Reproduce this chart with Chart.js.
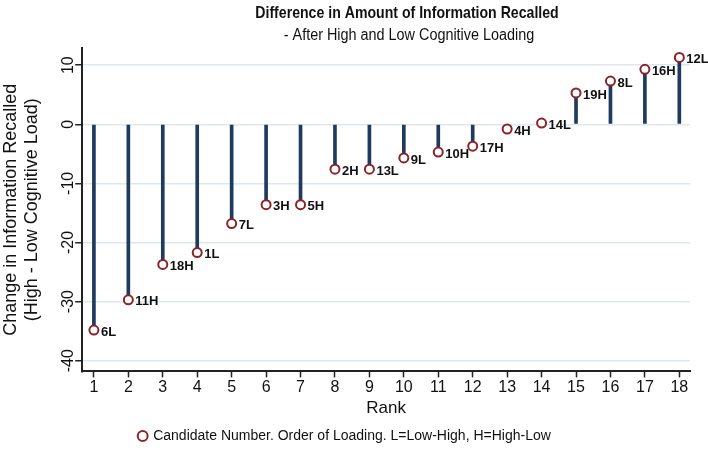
<!DOCTYPE html>
<html>
<head>
<meta charset="utf-8">
<script src="https://cdn.jsdelivr.net/npm/chart.js@4.4.1/dist/chart.umd.min.js"></script>
<style>
  html, body { margin: 0; padding: 0; background: #fff; }
  #wrap { width: 708px; height: 457px; }
</style>
</head>
<body>
<div id="wrap"><canvas id="stemChart"></canvas></div>
<script>
// 순위별 정보 회상 차이 (고부하 - 저부하)
const ranks = [1, 2, 3, 4, 5, 6, 7, 8, 9, 10, 11, 12, 13, 14, 15, 16, 17, 18];
const candidates = ['6L', '11H', '18H', '1L', '7L', '3H', '5H', '2H', '13L', '9L', '10H', '17H', '4H', '14L', '19H', '8L', '16H', '12L'];
const changes = [-34.8, -29.7, -23.7, -21.7, -16.8, -13.6, -13.6, -7.6, -7.6, -5.7, -4.7, -3.7, -0.8, 0.2, 5.3, 7.3, 9.3, 11.3];
const yTicks = [-40, -30, -20, -10, 0, 10];
const xTicks = ranks;

const FONT = "'Liberation Sans', Arial, sans-serif";
const points = ranks.map((r, i) => ({x: r, y: changes[i]}));

// 제목, y축 눈금(세로), 점 라벨
const extras = {
    id: 'extras',
    afterDatasetsDraw(chart) {
        const ctx = chart.ctx;
        const area = chart.chartArea;
        const yScale = chart.scales.y;
        ctx.save();
        ctx.fillStyle = '#111';
        ctx.textAlign = 'center';
        ctx.textBaseline = 'middle';

        ctx.save();
        ctx.translate(407, 13);
        ctx.scale(0.83, 1);
        ctx.font = 'bold 17px ' + FONT;
        ctx.fillText('Difference in Amount of Information Recalled', 0, 0);
        ctx.restore();

        ctx.save();
        ctx.translate(409, 36);
        ctx.scale(0.9, 1);
        ctx.font = '16px ' + FONT;
        ctx.fillText('- After High and Low Cognitive Loading', 0, 0);
        ctx.restore();

        ctx.font = '16px ' + FONT;
        yTicks.forEach(v => {
            const py = yScale.getPixelForValue(v);
            ctx.save();
            ctx.translate(area.left - 14, py);
            ctx.rotate(-Math.PI / 2);
            ctx.fillText(String(v), 0, 0);
            ctx.restore();
        });

        const meta = chart.getDatasetMeta(0);
        ctx.textAlign = 'left';
        ctx.font = 'bold 13px ' + FONT;
        meta.data.forEach((pt, i) => {
            ctx.fillText(candidates[i], pt.x + 7, pt.y + 2);
        });
        ctx.restore();
    }
};

new Chart(document.getElementById('stemChart').getContext('2d'), {
    type: 'bar',
    data: {
        datasets: [{
            type: 'scatter',
            label: 'Candidate Number. Order of Loading. L=Low-High, H=High-Low',
            data: points,
            pointStyle: 'circle',
            pointRadius: 4.5,
            pointBorderWidth: 2,
            borderColor: '#8b2428',
            backgroundColor: '#ffffff',
            order: 0
        }, {
            type: 'bar',
            label: 'stem',
            data: points,
            backgroundColor: '#1f3a5c',
            barThickness: 3,
            order: 1
        }]
    },
    options: {
        responsive: true,
        maintainAspectRatio: false,
        animation: false,
        layout: {padding: {top: 48, right: 18, left: 0, bottom: 4}},
        plugins: {
            title: {display: false},
            tooltip: {enabled: false},
            legend: {
                position: 'bottom',
                labels: {
                    filter: item => item.datasetIndex === 0,
                    usePointStyle: true,
                    boxWidth: 7,
                    boxHeight: 7,
                    padding: 10,
                    color: '#111',
                    font: {family: FONT, size: 14}
                }
            }
        },
        scales: {
            x: {
                type: 'linear',
                offset: false,
                min: 0.66,
                max: 18.31,
                afterBuildTicks: s => { s.ticks = xTicks.map(v => ({value: v})); },
                grid: {offset: false, color: 'rgba(0,0,0,0)', tickColor: '#222', tickLength: 6, tickWidth: 1.5},
                border: {color: '#222', width: 2},
                ticks: {color: '#111', font: {family: FONT, size: 16}, padding: 1, maxRotation: 0, autoSkip: false},
                title: {display: true, text: 'Rank', color: '#111', font: {family: FONT, size: 17}, padding: {top: 0, bottom: 0}}
            },
            y: {
                type: 'linear',
                min: -41.8,
                max: 12.9,
                afterBuildTicks: s => { s.ticks = yTicks.map(v => ({value: v})); },
                grid: {color: '#dce8ee', lineWidth: 1.5, tickColor: '#222', tickLength: 7, tickWidth: 1.5},
                border: {color: '#222', width: 2},
                ticks: {display: false},
                title: {
                    display: true,
                    text: ['Change in Information Recalled', '(High - Low Cognitive Load)'],
                    color: '#111',
                    font: {family: FONT, size: 18, lineHeight: 1.2},
                    padding: {top: 0, bottom: 32}
                }
            }
        }
    },
    plugins: [extras]
});
</script>
</body>
</html>
